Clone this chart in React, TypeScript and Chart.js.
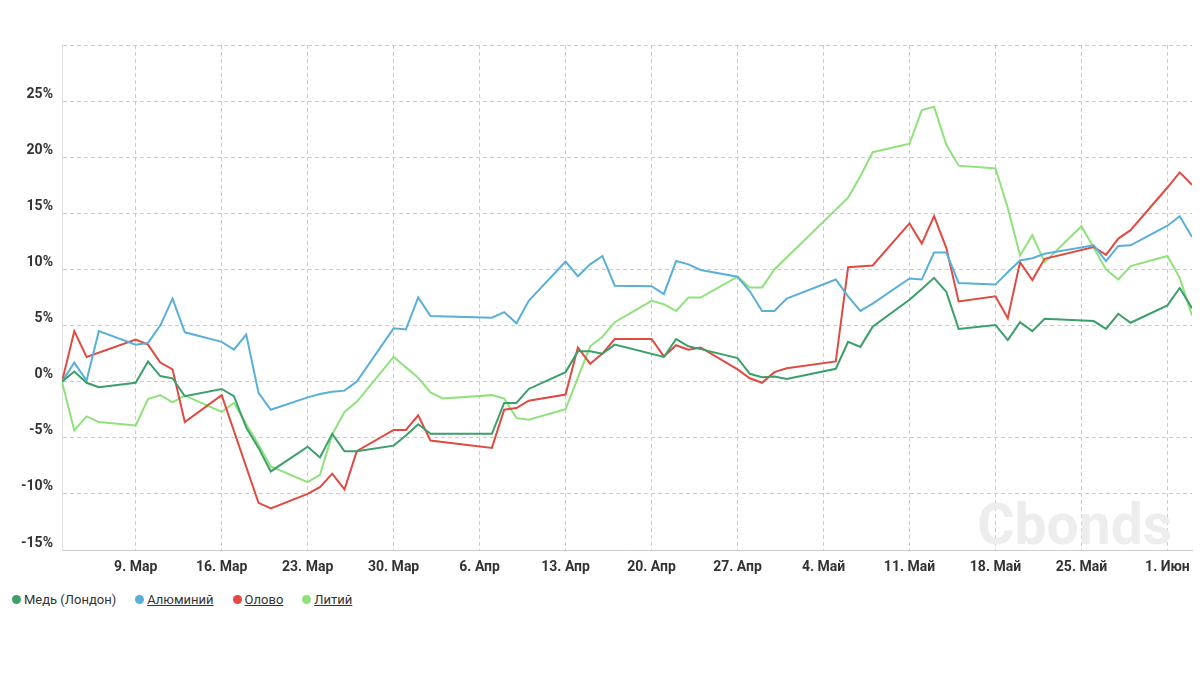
import { useEffect, useRef } from "react"
import { Chart, registerables } from "chart.js"

Chart.register(...registerables)

// trading days, 2020
const dates = [
  "2020-03-03", "2020-03-04", "2020-03-05", "2020-03-06", "2020-03-09", "2020-03-10", "2020-03-11",
  "2020-03-12", "2020-03-13", "2020-03-16", "2020-03-17", "2020-03-18", "2020-03-19", "2020-03-20",
  "2020-03-23", "2020-03-24", "2020-03-25", "2020-03-26", "2020-03-27", "2020-03-30", "2020-03-31",
  "2020-04-01", "2020-04-02", "2020-04-03", "2020-04-06", "2020-04-07", "2020-04-08", "2020-04-09",
  "2020-04-10", "2020-04-13", "2020-04-14", "2020-04-15", "2020-04-16", "2020-04-17", "2020-04-20",
  "2020-04-21", "2020-04-22", "2020-04-23", "2020-04-24", "2020-04-27", "2020-04-28", "2020-04-29",
  "2020-04-30", "2020-05-01", "2020-05-04", "2020-05-05", "2020-05-06", "2020-05-07", "2020-05-08",
  "2020-05-11", "2020-05-12", "2020-05-13", "2020-05-14", "2020-05-15", "2020-05-18", "2020-05-19",
  "2020-05-20", "2020-05-21", "2020-05-22", "2020-05-25", "2020-05-26", "2020-05-27", "2020-05-28",
  "2020-05-29", "2020-06-01", "2020-06-02", "2020-06-03",
]

// % change since 3 Mar
const copper = [
  0, 0.9, -0.1, -0.5, -0.1, 1.8, 0.5,
  0.3, -1.3, -0.65, -1.3, -4.1, -5.9, -8.0,
  -5.8, -6.75, -4.65, -6.2, -6.2, -5.7, -4.8,
  -3.8, -4.65, -4.65, -4.65, -4.65, -1.9, -1.9,
  -0.65, 0.85, 2.7, 2.7, 2.5, 3.3, null,
  2.2, 3.8, 3.15, 2.9, 2.1, 0.7, 0.4,
  0.45, 0.25, null, 1.15, 3.55, 3.1, 4.9,
  7.3, 8.25, 9.25, 8.0, 4.7, 5.05, 3.7,
  5.3, 4.5, 5.6, null, 5.4, 4.7, 6.05,
  5.25, 6.8, 8.35, 6.55,
]

const aluminium = [
  0, 1.7, 0.1, 4.5, 3.3, 3.45, 5.0,
  7.4, 4.4, 3.55, 2.85, 4.2, -1.0, -2.5,
  -1.4, -1.1, -0.9, -0.8, 0, 4.75, 4.65,
  7.5, 5.85, null, null, 5.7, 6.2, 5.2,
  7.2, 10.7, 9.4, 10.45, 11.2, 8.55, 8.5,
  7.8, 10.75, 10.45, 9.95, 9.35, 8.05, 6.3,
  6.3, 7.4, null, 9.1, 7.6, 6.3, 6.95,
  9.2, 9.1, 11.5, 11.5, 8.8, 8.65, 9.75,
  10.8, 11.0, 11.4, null, 12.15, 10.75, 12.1,
  12.15, 13.9, 14.75, 12.9,
]

const tin = [
  0, 4.5, 2.2, null, 3.75, 3.3, 1.7,
  1.1, -3.6, -1.2, null, null, -10.8, -11.3,
  -10.0, -9.4, -8.2, -9.6, -6.2, -4.3, -4.3,
  -3.0, -5.25, null, null, -5.9, -2.5, -2.35,
  -1.7, -1.15, 3.05, 1.6, 2.5, 3.8, 3.8,
  2.25, 3.25, 2.85, 3.05, 1.1, 0.3, -0.1,
  0.85, 1.2, null, 1.8, 10.2, null, 10.35,
  14.1, 12.3, 14.75, 11.9, 7.15, 7.6, 5.65,
  10.65, 9.05, 10.95, null, 12.0, 11.3, 12.75,
  13.5, 17.3, 18.65, 17.55,
]

const lithium = [
  0, -4.35, -3.1, -3.6, -3.9, -1.55, -1.2,
  -1.85, -1.25, -2.7, -1.9, -3.8, -5.6, -7.55,
  -8.95, -8.3, -4.7, -2.7, -1.8, 2.2, null,
  0.35, -0.95, -1.5, null, -1.2, -1.5, -3.25,
  -3.4, -2.45, null, 3.15, 4.0, 5.3, 7.2,
  6.9, 6.3, 7.5, 7.5, 9.35, 8.4, 8.4,
  10.0, null, null, null, 16.4, 18.3, 20.45,
  21.2, 24.2, 24.5, 21.1, 19.25, 19.0, 15.5,
  11.25, 13.05, 10.65, 13.85, null, 10.0, 9.1,
  10.3, 11.2, 9.25, 5.9,
]

const seriesNames = ["Медь (Лондон)", "Алюминий", "Олово", "Литий"]

const tickDates = [
  "2020-03-09", "2020-03-16", "2020-03-23", "2020-03-30", "2020-04-06", "2020-04-13", "2020-04-20",
  "2020-04-27", "2020-05-04", "2020-05-11", "2020-05-18", "2020-05-25", "2020-06-01",
]
const tickLabels = [
  "9. Мар", "16. Мар", "23. Мар", "30. Мар", "6. Апр", "13. Апр", "20. Апр",
  "27. Апр", "4. Май", "11. Май", "18. Май", "25. Май", "1. Июн",
]

const colors = ["#3a9f69", "#5aafd9", "#df4a41", "#8fe27b"]

const toDay = (d: string) => Date.parse(d + "T00:00:00Z") / 86400000

const watermark = {
  id: "watermark",
  beforeDatasetsDraw(chart: Chart) {
    const { ctx, chartArea } = chart
    ctx.save()
    ctx.font = "bold 57px Roboto"
    ctx.fillStyle = "#ededed"
    ctx.textAlign = "right"
    ctx.textBaseline = "alphabetic"
    ctx.fillText("Cbonds", chartArea.right - 20, chartArea.bottom - 6)
    ctx.restore()
  },
}

export default function App() {
  const canvasRef = useRef<HTMLCanvasElement>(null)
  const chartRef = useRef<Chart | null>(null)

  useEffect(() => {
    if (!canvasRef.current) return
    if (chartRef.current) chartRef.current.destroy()

    const xs = dates.map(toDay)
    const series = [copper, aluminium, tin, lithium]

    chartRef.current = new Chart(canvasRef.current, {
      type: "line",
      data: {
        datasets: series.map((vals, i) => ({
          label: seriesNames[i],
          data: vals
            .map((v, j) => ({ x: xs[j], y: v }))
            .filter((p) => p.y !== null),
          borderColor: colors[i],
          backgroundColor: colors[i],
          borderWidth: 2,
          pointRadius: 0,
          tension: 0,
          fill: false,
        })),
      },
      options: {
        animation: false,
        responsive: true,
        maintainAspectRatio: false,
        layout: { padding: { left: 0, top: 45, right: 11, bottom: 0 } },
        plugins: {
          legend: { display: false },
          tooltip: { enabled: false },
        },
        scales: {
          x: {
            type: "linear",
            min: toDay(dates[0]),
            max: toDay(dates[dates.length - 1]),
            afterBuildTicks: (s: any) => {
              s.ticks = tickDates.map((d) => ({ value: toDay(d) }))
            },
            afterFit: (s: any) => {
              s.height = 40
            },
            grid: { color: "#cccccc", drawTicks: false },
            border: { display: true, color: "#cccccc", dash: [4, 3] },
            ticks: {
              autoSkip: false,
              maxRotation: 0,
              padding: 9,
              color: "#333333",
              font: { family: "Roboto", size: 14, weight: "bold" },
              callback: (_v: any, i: number) => tickLabels[i],
            },
          },
          y: {
            min: -15,
            max: 30,
            afterFit: (s: any) => {
              s.width = 62
            },
            grid: { color: "#cccccc", drawTicks: false },
            border: { display: true, color: "#dddddd", dash: [4, 3] },
            ticks: {
              stepSize: 5,
              padding: 9,
              labelOffset: -7,
              color: "#333333",
              font: { family: "Roboto", size: 14, weight: "bold" },
              callback: (v: any) => (v === 30 ? "" : v + "%"),
            },
          },
        },
      },
      plugins: [watermark],
    })

    return () => {
      if (chartRef.current) {
        chartRef.current.destroy()
        chartRef.current = null
      }
    }
  }, [])

  return (
    <div
      style={{
        position: "absolute",
        left: 0,
        top: 0,
        width: 1203,
        height: 673,
        background: "#fff",
        fontFamily: "Roboto, sans-serif",
      }}
    >
      <div style={{ position: "relative", width: 1203, height: 590 }}>
        <canvas ref={canvasRef}></canvas>
      </div>
      <div
        style={{
          position: "absolute",
          left: 12,
          top: 591,
          display: "flex",
          alignItems: "center",
          fontSize: 13,
          lineHeight: "17px",
          color: "#333333",
        }}
      >
        {seriesNames.map((name, i) => (
          <div key={name} style={{ display: "flex", alignItems: "center", marginRight: 19 }}>
            <span
              style={{
                display: "inline-block",
                width: 9,
                height: 9,
                borderRadius: "50%",
                background: colors[i],
                marginRight: 3,
              }}
            ></span>
            <span style={{ textDecoration: i === 0 ? "none" : "underline" }}>{name}</span>
          </div>
        ))}
      </div>
    </div>
  )
}
